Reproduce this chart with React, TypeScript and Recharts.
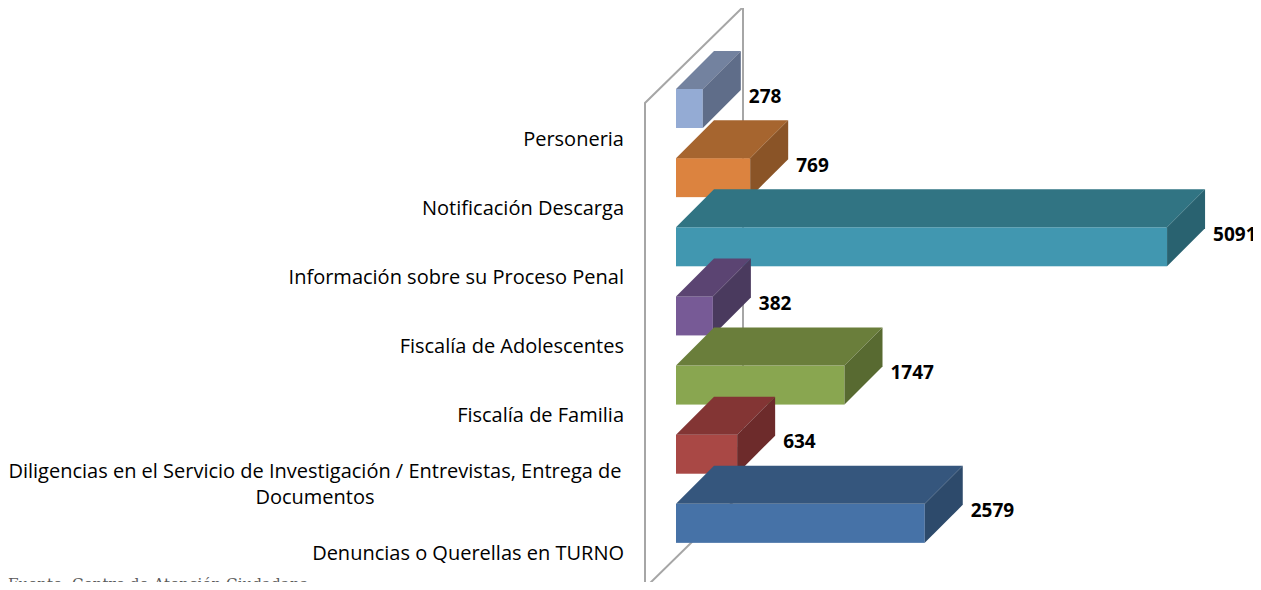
import React from "react";
import { Bar, BarChart, Cell, LabelList, XAxis, YAxis } from "recharts";

// categories, top to bottom as drawn
const categories = [
  "Personeria",
  "Notificación Descarga",
  "Información sobre su Proceso Penal",
  "Fiscalía de Adolescentes",
  "Fiscalía de Familia",
  "Diligencias en el Servicio de Investigación / Entrevistas, Entrega de Documentos",
  "Denuncias o Querellas en TURNO",
];
const values = [278, 769, 5091, 382, 1747, 634, 2579];

// front / top / side face colours for each bar
const frontColors = ["#94abd4", "#dc833f", "#4197b0", "#775a96", "#89a650", "#a94845", "#4672a7"];
const topColors = ["#73829f", "#a6652f", "#317483", "#5b4472", "#6a7e3b", "#833534", "#35567d"];
const sideColors = ["#5f6d89", "#8a5427", "#296270", "#4a3a5e", "#586a31", "#6d2b2b", "#2d4a6b"];

const data = categories.map((name, i) => ({ name, value: values[i], idx: i }));

const W = 1261;
const H = 590;
const DEPTH = 38;
const FONT = "'Open Sans', sans-serif";

function Bar3D(props: any) {
  const { x, y, width, height, idx } = props;
  const d = DEPTH;
  return (
    <g>
      <rect x={x} y={y} width={width} height={height} fill={frontColors[idx]} />
      <polygon
        points={`${x},${y} ${x + d},${y - d} ${x + width + d},${y - d} ${x + width},${y}`}
        fill={topColors[idx]}
      />
      <polygon
        points={`${x + width},${y} ${x + width + d},${y - d} ${x + width + d},${y + height - d} ${x + width},${y + height}`}
        fill={sideColors[idx]}
      />
    </g>
  );
}

function CategoryTick(props: any) {
  const { x, y, payload } = props;
  const text: string = payload.value;
  // long label wraps onto two centred lines like the original
  if (text.length > 60) {
    const cut = text.lastIndexOf(" ", 70);
    const lines = [text.slice(0, cut), text.slice(cut + 1)];
    return (
      <text x={x - 309} y={y + 30} textAnchor="middle" fontFamily={FONT} fontSize={20} fill="#000">
        {lines.map((l, i) => (
          <tspan key={i} x={x - 309} dy={i === 0 ? -6 : 26}>
            {l}
          </tspan>
        ))}
      </text>
    );
  }
  return (
    <text x={x} y={y + 30} dy={7} textAnchor="end" fontFamily={FONT} fontSize={20} fill="#000">
      {text}
    </text>
  );
}

function ValueLabel(props: any) {
  const { x, y, width, height, value } = props;
  return (
    <text
      x={x + width + DEPTH + 8}
      y={y + height / 2 - 13}
      dy={7}
      fontFamily={FONT}
      fontWeight="bold"
      fontSize={19}
      fill="#000"
    >
      {value}
    </text>
  );
}

function Wall() {
  // back wall of the 3D plot
  const l = 645;
  const r = 743;
  return (
    <svg width={W} height={H} style={{ position: "absolute", left: 0, top: 0 }}>
      <polygon
        points={`${l},588 ${l},103 ${r},7 ${r},492`}
        fill="none"
        stroke="#a6a6a6"
        strokeWidth={2}
      />
    </svg>
  );
}

export default function App() {
  return (
    <div style={{ position: "relative", width: W, height: H, margin: -8, background: "#fff", overflow: "hidden" }}>
      <Wall />
      <div style={{ position: "absolute", left: 0, top: 0 }}>
        <BarChart
          width={W}
          height={H}
          data={data}
          layout="vertical"
          margin={{ top: 74, right: 0, bottom: 32, left: 0 }}
        >
          <XAxis type="number" domain={[0, 6065]} allowDataOverflow hide />
          <YAxis
            type="category"
            dataKey="name"
            width={676}
            axisLine={false}
            tickLine={false}
            tickSize={0}
            tickMargin={52}
            interval={0}
            tick={<CategoryTick />}
          />
          <Bar dataKey="value" barSize={39} isAnimationActive={false} shape={<Bar3D />}>
            {data.map((d) => (
              <Cell key={d.name} fill={frontColors[d.idx]} />
            ))}
            <LabelList dataKey="value" content={<ValueLabel />} />
          </Bar>
        </BarChart>
      </div>
      <div
        style={{
          position: "absolute",
          left: 8,
          top: 574,
          lineHeight: "20px",
          fontFamily: "'DejaVu Serif', serif",
          fontSize: 15.2,
          color: "#595959",
          whiteSpace: "nowrap",
        }}
      >
        Fuente: Centro de Atención Ciudadana
      </div>
    </div>
  );
}
